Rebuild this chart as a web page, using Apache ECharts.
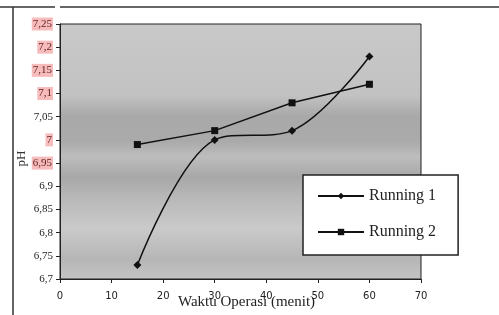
<!DOCTYPE html>
<html>
<head>
<meta charset="utf-8">
<script src="https://cdn.jsdelivr.net/npm/echarts@6/dist/echarts.min.js"></script>
<style>
  html, body { margin: 0; padding: 0; background: #fff; }
  #chart { width: 499px; height: 315px; }
</style>
</head>
<body>
<div id="chart"></div>
<script>
// data
const waktu = [15, 30, 45, 60]
const running1 = [6.73, 7.0, 7.02, 7.18]
const running2 = [6.99, 7.02, 7.08, 7.12]
// labels with a pink marker behind them in the scan
const markedTicks = ['7,25', '7,2', '7,15', '7,1', '7', '6,95']

const fmt = (v) => String(+v.toFixed(2)).replace('.', ',')

const myChart = echarts.init(document.getElementById('chart'))

const option = {
  backgroundColor: '#fff',
  textStyle: { fontFamily: 'Liberation Serif', color: '#222' },
  grid: {
    left: 60,
    right: 78,
    top: 24,
    bottom: 34,
    show: true,
    borderColor: '#222',
    borderWidth: 1,
    // 扫描件里的灰色底纹
    backgroundColor: {
      type: 'linear', x: 0, y: 0, x2: 0, y2: 1,
      colorStops: [
        { offset: 0, color: '#c9c9c9' },
        { offset: 0.28, color: '#c2c2c2' },
        { offset: 0.36, color: '#a9a9a9' },
        { offset: 0.46, color: '#aaaaaa' },
        { offset: 0.52, color: '#bdbdbd' },
        { offset: 0.6, color: '#a8a8a8' },
        { offset: 0.68, color: '#b8b8b8' },
        { offset: 0.8, color: '#cacaca' },
        { offset: 0.92, color: '#b6b6b6' },
        { offset: 1, color: '#c4c4c4' }
      ]
    }
  },
  xAxis: {
    type: 'value',
    min: 0,
    max: 70,
    interval: 10,
    name: 'Waktu Operasi (menit)',
    nameLocation: 'middle',
    nameGap: 16,
    nameMoveOverlap: false,
    nameTextStyle: { fontSize: 15, color: '#222', fontFamily: 'Liberation Serif', padding: [0, 0, 0, 12] },
    splitLine: { show: false },
    axisLine: { lineStyle: { color: '#222' } },
    axisTick: { inside: false, length: 4, lineStyle: { color: '#222' } },
    axisLabel: { fontSize: 10, color: '#222', margin: 12, fontFamily: 'DejaVu Sans' }
  },
  yAxis: {
    type: 'value',
    min: 6.7,
    max: 7.25,
    interval: 0.05,
    name: 'pH',
    nameLocation: 'middle',
    nameRotate: 90,
    nameGap: 32,
    nameMoveOverlap: false,
    nameTextStyle: { fontSize: 13, color: '#333', fontFamily: 'Liberation Serif', padding: [0, 14, 0, 0] },
    splitLine: { show: false },
    axisLine: { lineStyle: { color: '#222' } },
    axisTick: { length: 4, lineStyle: { color: '#222' } },
    axisLabel: {
      fontSize: 11,
      margin: 7,
      color: '#222',
      fontFamily: 'Liberation Serif',
      formatter: (v) => {
        const s = fmt(v)
        return markedTicks.includes(s) ? '{m|' + s + '}' : s
      },
      rich: {
        m: { backgroundColor: '#f6bcbc', color: '#622', fontSize: 11, fontFamily: 'Liberation Serif', padding: [1, 1] }
      }
    }
  },
  legend: {
    orient: 'vertical',
    left: 303,
    top: 175,
    itemWidth: 46,
    itemHeight: 8,
    itemGap: 20,
    padding: [13, 22, 15, 14],
    backgroundColor: '#fff',
    borderColor: '#222',
    borderWidth: 1.5,
    borderRadius: 0,
    textStyle: { fontSize: 16, color: '#222', fontFamily: 'Liberation Serif' },
    data: ['Running 1', 'Running 2']
  },
  series: [
    {
      name: 'Running 1',
      type: 'line',
      smooth: 0.35,
      symbol: 'diamond',
      symbolSize: 8,
      lineStyle: { color: '#111', width: 1.5 },
      itemStyle: { color: '#111' },
      data: waktu.map((t, i) => [t, running1[i]])
    },
    {
      name: 'Running 2',
      type: 'line',
      symbol: 'rect',
      symbolSize: 7,
      lineStyle: { color: '#111', width: 1.5 },
      itemStyle: { color: '#111' },
      data: waktu.map((t, i) => [t, running2[i]])
    }
  ],
  graphic: [
    // 外框线
    { type: 'line', shape: { x1: 0, y1: 7, x2: 55, y2: 7 }, style: { stroke: '#333', lineWidth: 1.5 } },
    { type: 'line', shape: { x1: 60, y1: 7, x2: 499, y2: 7 }, style: { stroke: '#333', lineWidth: 1.5 } },
    { type: 'line', shape: { x1: 13, y1: 7, x2: 13, y2: 315 }, style: { stroke: '#333', lineWidth: 1.5 } }
  ]
}

myChart.setOption(option)
</script>
</body>
</html>
